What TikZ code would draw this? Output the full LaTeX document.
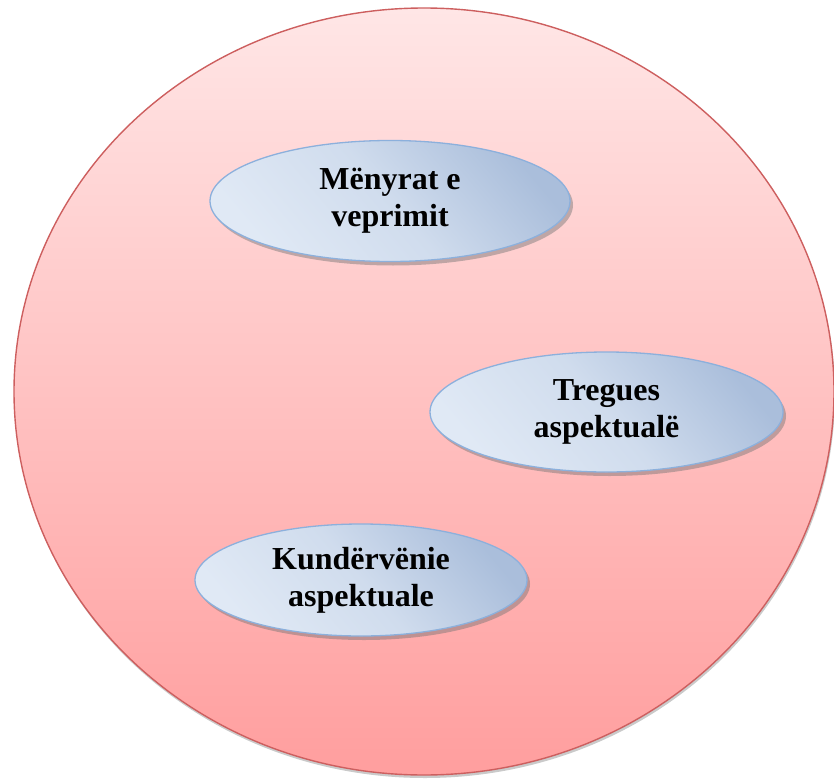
\documentclass[tikz,border=0pt]{standalone}
\usepackage{fontspec}
\setmainfont{Liberation Serif}
\usetikzlibrary{shapes.geometric,shadows}

\definecolor{pinkTop}{RGB}{255,230,230}
\definecolor{pinkBot}{RGB}{255,158,158}
\definecolor{pinkEdge}{RGB}{205,95,95}
\definecolor{blueLight}{RGB}{224,233,245}
\definecolor{blueDark}{RGB}{170,190,219}
\definecolor{blueEdge}{RGB}{140,176,220}

\tikzset{
  outerset/.style={ellipse, inner sep=0pt, draw=pinkEdge, line width=1.4pt,
    top color=pinkTop, bottom color=pinkBot,
    drop shadow={shadow xshift=1pt, shadow yshift=-3pt, opacity=0.35, fill=black!60}},
  concept/.style={ellipse, inner sep=0pt, draw=blueEdge, line width=1.3pt,
    top color=blueDark, bottom color=blueLight, middle color=blueLight!70!blueDark,
    shading angle=-50,
    drop shadow={shadow xshift=3pt, shadow yshift=-4pt, opacity=0.45, fill=black!55},
    align=center, font=\bfseries\fontsize{32}{37}\selectfont}
}

\begin{document}
\begin{tikzpicture}[x=1pt,y=-1pt]
  \useasboundingbox (0,0) rectangle (834,778);

  % the surrounding field
  \node[outerset, minimum width=820pt, minimum height=767pt] (field) at (424,391.5) {};

  % the three concepts inside it
  \node[concept, minimum width=360pt, minimum height=121pt] (menyrat) at (390,201)
    {Mënyrat e\\veprimit};
  \node[concept, minimum width=353pt, minimum height=120pt] (tregues) at (606.5,412)
    {Tregues\\aspektualë};
  \node[concept, minimum width=332pt, minimum height=112pt] (kundervenie) at (361,580)
    {Kundërvënie\\aspektuale};
\end{tikzpicture}
\end{document}
